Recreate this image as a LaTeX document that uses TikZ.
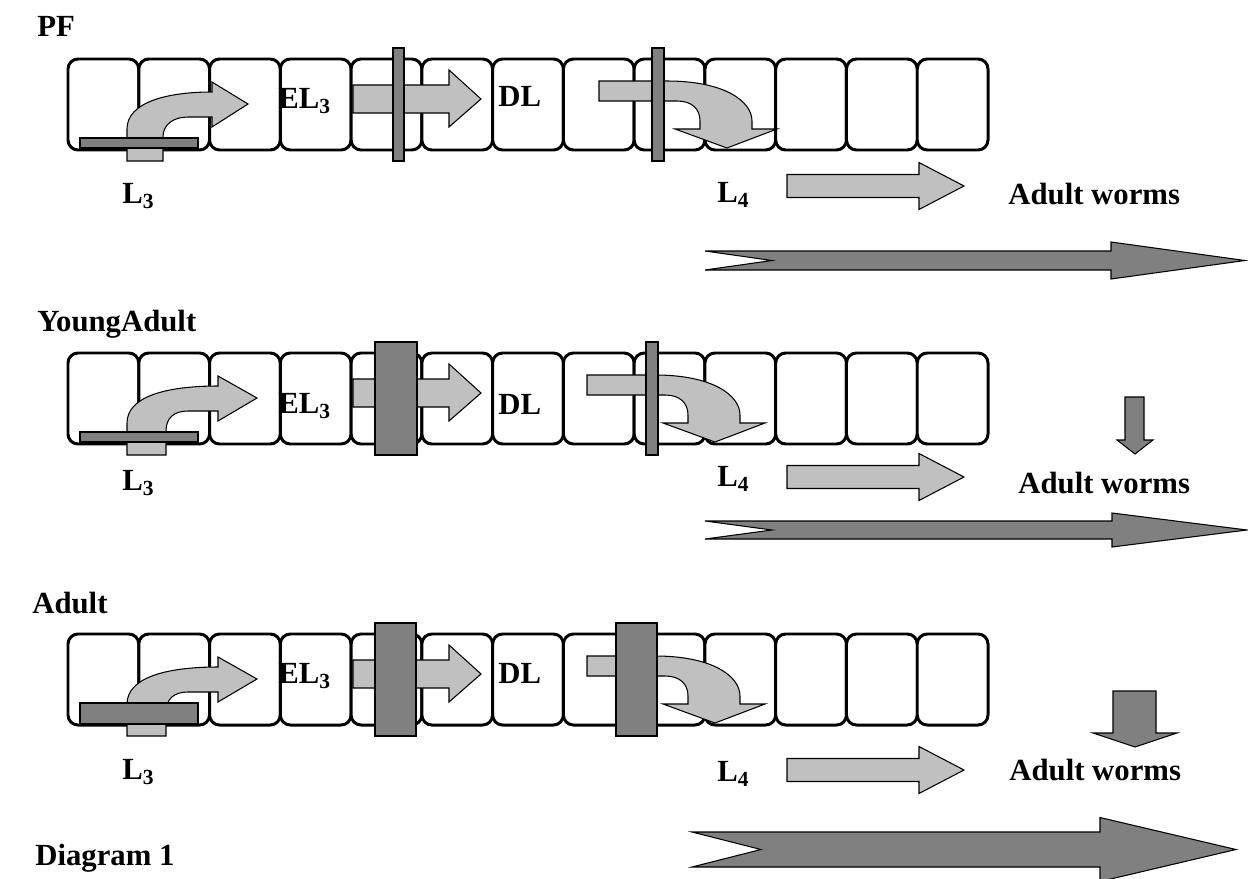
\documentclass[tikz,border=0pt]{standalone}
\usepackage{fontspec}
\setmainfont{Liberation Serif}
\definecolor{lightgr}{HTML}{C0C0C0}
\definecolor{darkgr}{HTML}{808080}
\tikzset{
  cell/.style={draw,line width=1.7pt,rounded corners=0.2cm,fill=white},
  lightarrow/.style={draw,line width=0.6pt,fill=lightgr},
  darkbar/.style={draw,line width=0.6pt,fill=darkgr},
  lbl/.style={font=\fontsize{17.5}{20}\selectfont\bfseries,inner sep=0pt,anchor=west}
}
\begin{document}
\begin{tikzpicture}[x=0.02cm,y=-0.02cm]
  \useasboundingbox (0,0) rectangle (1248,879);

  \foreach \rt/\sr/\hb/\tp/\bt/\bb/\bl/\br/\cl/\cr/\dx in
    {59/163/212/248/79/89/393/404/652/664/12,
     353/166/218/257/79/89/375/417/646/658/0,
     634/166/218/257/69/90/375/416/616/657/0}{
    \foreach \k in {0,...,12}
      \draw[cell] (68+\k*70.77,\rt) rectangle ++(70.77,91);
    \draw[lightarrow] (127,\rt+102) -- (127,\rt+70)
      .. controls (127,\rt+44) and (165,\rt+33) .. (\hb,\rt+33)
      -- (\hb,\rt+23) -- (\tp,\rt+45) -- (\hb,\rt+68) -- (\hb,\rt+58) -- (188,\rt+58)
      .. controls (174,\rt+58) and (\sr,\rt+65) .. (\sr,\rt+78) -- (\sr,\rt+102) -- cycle;
    \draw[lightarrow] (353,\rt+26) -- (449,\rt+26) -- (449,\rt+11) -- (481,\rt+40)
      -- (449,\rt+68) -- (449,\rt+54) -- (353,\rt+54) -- cycle;
    \draw[lightarrow] (587+\dx,\rt+22) -- (655+\dx,\rt+22)
      .. controls (712+\dx,\rt+22) and (740+\dx,\rt+42) .. (740+\dx,\rt+62)
      -- (740+\dx,\rt+70) -- (765+\dx,\rt+70) -- (715+\dx,\rt+89) -- (663+\dx,\rt+70)
      -- (688+\dx,\rt+70) -- (688+\dx,\rt+62)
      .. controls (688+\dx,\rt+50) and (680+\dx,\rt+42) .. (665+\dx,\rt+42)
      -- (587+\dx,\rt+42) -- cycle;
    \draw[darkbar] (80,\rt+\bt) rectangle (198,\rt+\bb);
    \draw[darkbar] (\bl,\rt-11) rectangle (\br,\rt+102);
    \draw[darkbar] (\cl,\rt-11) rectangle (\cr,\rt+102);
  }

  \foreach \cy in {186,477,770}
    \draw[lightarrow] (787,\cy-11.5) -- (919,\cy-11.5) -- (919,\cy-23.5) -- (964,\cy)
      -- (919,\cy+23.5) -- (919,\cy+11.5) -- (787,\cy+11.5) -- cycle;

  \foreach \tx/\nt/\cy/\sh/\hb/\hh/\tp in
    {705/772/260.5/9.5/1111/18.5/1245,
     705/772/530/9/1112/17/1247,
     692/761/849.5/17.5/1100/32/1236}
    \draw[darkbar] (\tx,\cy-\sh) -- (\hb,\cy-\sh) -- (\hb,\cy-\hh) -- (\tp,\cy)
      -- (\hb,\cy+\hh) -- (\hb,\cy+\sh) -- (\tx,\cy+\sh) -- (\nt,\cy) -- cycle;

  \draw[darkbar] (1125,397) -- (1144,397) -- (1144,440) -- (1153,440) -- (1135,454)
    -- (1117,440) -- (1125,440) -- cycle;
  \draw[darkbar] (1113,691) -- (1156,691) -- (1156,733) -- (1177,733) -- (1135,747)
    -- (1093,733) -- (1113,733) -- cycle;

  \foreach \i/\ey/\dy/\la/\lb/\aw/\awx in
    {1/101/96/196/195/194/1008,
     2/406/404/483/479/483/1018,
     3/676/673/772/774/770/1009}{
    \node[lbl] (el-\i) at (278,\ey) {EL\textsubscript{3}};
    \node[lbl] (dl-\i) at (498,\dy) {DL};
    \node[lbl] (lthree-\i) at (122,\la) {L\textsubscript{3}};
    \node[lbl] (lfour-\i) at (717,\lb) {L\textsubscript{4}};
    \node[lbl] (worms-\i) at (\awx,\aw) {Adult worms};
  }

  \node[lbl] (pf) at (37,26) {PF};
  \node[lbl] (young) at (37,324) {YoungAdult};
  \node[lbl] (adult) at (32,603) {Adult};
  \node[lbl] (caption) at (35,858) {Diagram 1};
\end{tikzpicture}
\end{document}
